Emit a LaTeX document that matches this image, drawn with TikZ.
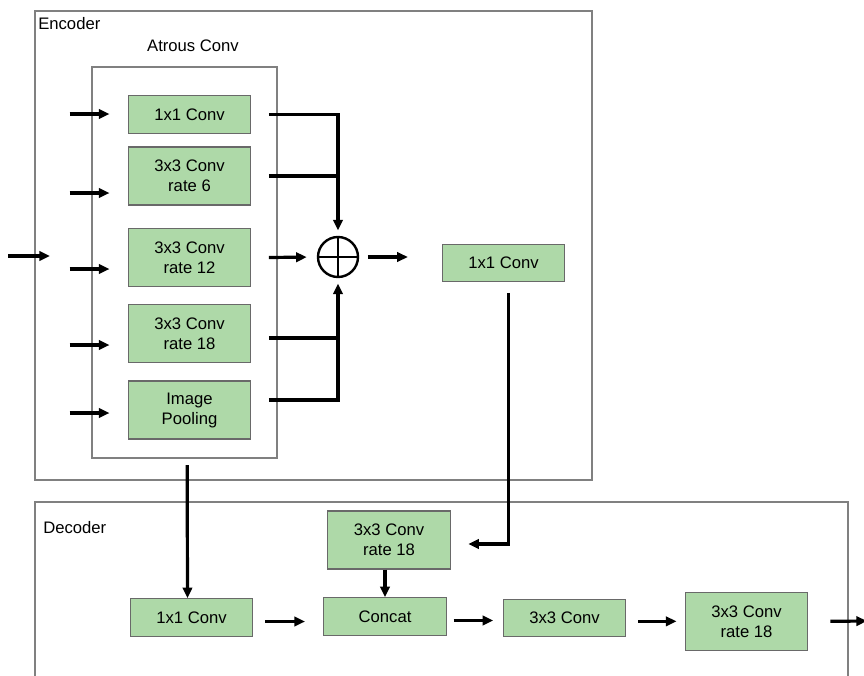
\documentclass[tikz,border=0pt]{standalone}
\usepackage{fontspec}
\setmainfont{Liberation Sans}
\usetikzlibrary{arrows.meta,positioning}
\definecolor{boxgreen}{RGB}{174,217,168}
\definecolor{boxedge}{RGB}{105,105,105}
\definecolor{framegray}{RGB}{128,128,128}

\begin{document}
\begin{tikzpicture}[x=0.75pt,y=-0.75pt,
        block/.style={draw=boxedge,fill=boxgreen,line width=0.9pt,minimum width=92pt,minimum height=28pt,inner sep=0pt,align=center,font=\fontsize{12.5}{15}\selectfont},
        tall/.style={block,minimum height=43.5pt},
        label/.style={inner sep=0pt,font=\fontsize{12.5}{15}\selectfont},
        arr/.style={-{Triangle[length=8pt,width=7pt]},line width=2.4pt},
        wire/.style={line width=2.4pt}]
        \useasboundingbox (0,0) rectangle (864,675);
        % frames
        \draw[framegray,line width=0.8pt] (35,11) rectangle (592,480);
        \draw[framegray,line width=0.8pt] (35,700) |- (848,502) -- (848,700);
        \node[label,anchor=base west] (enc) at (38,29) {Encoder};
        \node[label,anchor=base] (atr) at (193,51) {Atrous Conv};
        \node[label,anchor=base west] (dec) at (43,533) {Decoder};
        \node[draw=framegray,line width=0.8pt,minimum width=138.75pt,minimum height=293.25pt,inner sep=0pt] (atrous) at (184.5,262.5) {};

        % encoder branches
        \node[block] (c1) at (189.5,114.5) {1x1 Conv};
        \node[tall] (c2) at (189.5,176) {3x3 Conv\\rate 6};
        \node[tall] (c3) at (189.5,257.5) {3x3 Conv\\rate 12};
        \node[tall] (c4) at (189.5,333.5) {3x3 Conv\\rate 18};
        \node[tall] (c5) at (189.5,410) {Image\\Pooling};
        \node[circle,draw,line width=1.8pt,minimum size=30pt,inner sep=0pt] (sum) at (338,257) {};
        \draw[line width=1.8pt] (sum.north) -- (sum.south) (sum.west) -- (sum.east);
        \node[block] (e1) at (503.5,263) {1x1 Conv};

        % decoder
        \node[tall] (drate) at (389,540) {3x3 Conv\\rate 18};
        \node[block] (concat) at (385,616.5) {Concat};
        \node[block] (d1) at (191.5,617.5) {1x1 Conv};
        \node[block] (d3) at (564.5,618) {3x3 Conv};
        \node[tall] (dout) at (746.5,621.5) {3x3 Conv\\rate 18};

        % inputs
        \coordinate (in) at (8,256);
        \draw[arr] (in) -- ++(42,0);
        \foreach \n/\dy in {c1/-0.5,c2/17,c3/11.5,c4/11.5,c5/3}
            \draw[arr] ([shift={(-58,\dy)}]\n.west) -- ([shift={(-18,\dy)}]\n.west);

        % into the sum
        \draw[wire] ([xshift=13pt]c2.east) -- (c2.east -| sum.north);
        \draw[arr,shorten >=4pt] ([xshift=13pt]c1.east) -| (sum.north);
        \draw[arr,shorten >=7.5pt] ([xshift=13pt]c3.east) -- (sum.west);
        \draw[wire] ([xshift=13pt,yshift=7.5pt]c5.east) -| ([yshift=-3.4pt]c4.east -| sum.south);
        \draw[arr,shorten >=4pt] ([xshift=13pt,yshift=-3.4pt]c4.east) -| (sum.south);
        \draw[arr] ([xshift=6.5pt]sum.east) -- ++(40,0);

        % encoder to decoder
        \draw[arr,shorten >=13pt] ([xshift=4pt,yshift=-8pt]e1.south) |- ([yshift=-3pt]drate.east);
        \draw[arr] ([xshift=2pt,yshift=-5pt]atrous.south) -- ([xshift=-3pt]d1.north);
        \draw[arr] (concat.north |- drate.south) -- (concat.north);
        \draw[arr,shorten <=9pt,shorten >=13.5pt] ([yshift=-3pt]d1.east) -- ([yshift=-3pt]d1.east -| concat.west);
        \draw[arr,shorten <=5pt,shorten >=7pt] ([yshift=-3pt]concat.east) -- ([yshift=-3pt]concat.east -| d3.west);
        \draw[arr,shorten <=9pt,shorten >=6pt] ([yshift=-2.5pt]d3.east) -- ([yshift=-2.5pt]d3.east -| dout.west);
        \coordinate (out) at (867,621);
        \draw[arr,shorten <=16.5pt] (dout.east) -- (out);
\end{tikzpicture}
\end{document}
